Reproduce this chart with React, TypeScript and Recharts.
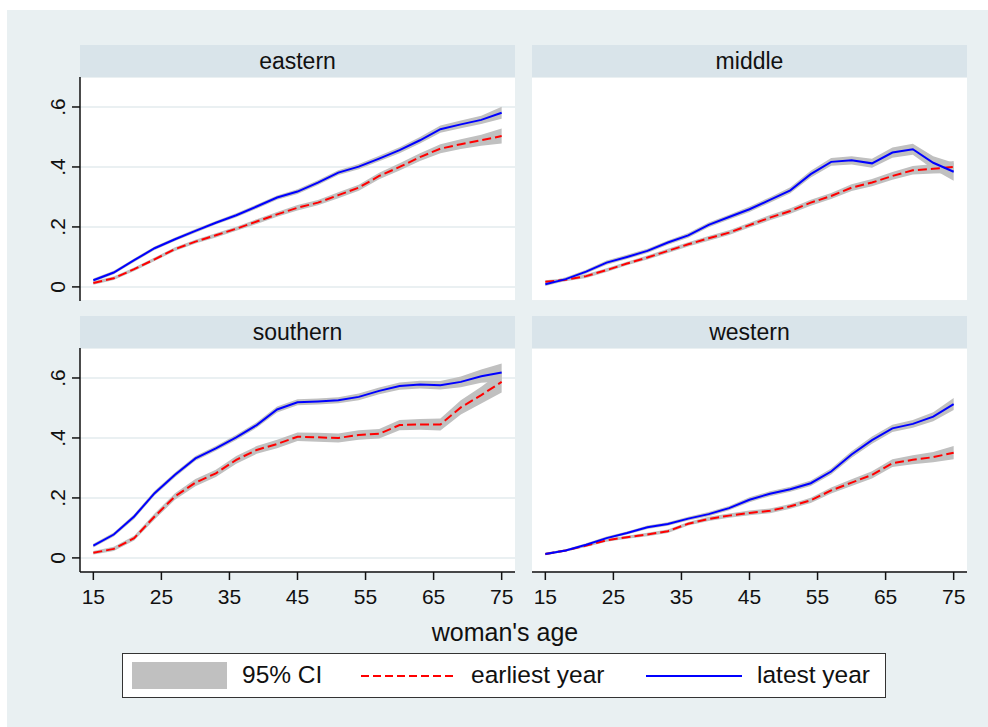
import React from 'react';
import { ComposedChart, Line, Area, XAxis, YAxis, CartesianGrid } from 'recharts';

const FONT = '"Liberation Sans", Arial, sans-serif';

// woman's age grid, shared by every panel
const ages = [15, 18, 21, 24, 27, 30, 33, 36, 39, 42, 45, 48, 51, 54, 57, 60, 63, 66, 69, 72, 75];
const xTicks = [15, 25, 35, 45, 55, 65, 75];
const yTicks = [0, 0.2, 0.4, 0.6];

const easternEarliest = [0.013, 0.029, 0.059, 0.092, 0.126, 0.151, 0.172, 0.194, 0.218, 0.242, 0.264, 0.281, 0.306, 0.331, 0.37, 0.4, 0.433, 0.461, 0.476, 0.489, 0.503];
const easternEarliestCI = [0.006, 0.006, 0.006, 0.006, 0.006, 0.006, 0.007, 0.007, 0.008, 0.008, 0.009, 0.009, 0.01, 0.01, 0.011, 0.012, 0.013, 0.015, 0.016, 0.018, 0.025];
const easternLatest = [0.022, 0.048, 0.089, 0.129, 0.159, 0.187, 0.214, 0.239, 0.268, 0.298, 0.318, 0.348, 0.381, 0.401, 0.428, 0.456, 0.489, 0.526, 0.542, 0.557, 0.581];
const easternLatestCI = [0.006, 0.006, 0.006, 0.006, 0.006, 0.006, 0.006, 0.007, 0.007, 0.007, 0.008, 0.008, 0.008, 0.009, 0.009, 0.01, 0.011, 0.012, 0.013, 0.014, 0.02];

const middleEarliest = [0.017, 0.024, 0.036, 0.056, 0.078, 0.098, 0.12, 0.142, 0.162, 0.181, 0.206, 0.231, 0.253, 0.281, 0.303, 0.331, 0.348, 0.37, 0.389, 0.394, 0.4];
const middleEarliestCI = [0.005, 0.005, 0.006, 0.006, 0.006, 0.007, 0.007, 0.007, 0.008, 0.008, 0.008, 0.009, 0.009, 0.01, 0.01, 0.011, 0.012, 0.013, 0.014, 0.016, 0.02];
const middleLatest = [0.009, 0.026, 0.051, 0.081, 0.1, 0.12, 0.148, 0.172, 0.207, 0.233, 0.259, 0.29, 0.322, 0.376, 0.417, 0.422, 0.412, 0.448, 0.459, 0.414, 0.384];
const middleLatestCI = [0.006, 0.006, 0.006, 0.007, 0.007, 0.007, 0.007, 0.008, 0.008, 0.008, 0.009, 0.009, 0.01, 0.011, 0.013, 0.014, 0.015, 0.017, 0.018, 0.022, 0.03];

const southernEarliest = [0.017, 0.03, 0.066, 0.138, 0.205, 0.251, 0.282, 0.327, 0.36, 0.38, 0.404, 0.402, 0.4, 0.41, 0.414, 0.443, 0.445, 0.445, 0.502, 0.543, 0.587];
const southernEarliestCI = [0.006, 0.007, 0.008, 0.01, 0.011, 0.012, 0.012, 0.013, 0.013, 0.014, 0.014, 0.015, 0.015, 0.016, 0.016, 0.017, 0.018, 0.02, 0.024, 0.028, 0.035];
const southernLatest = [0.041, 0.078, 0.138, 0.216, 0.277, 0.332, 0.365, 0.402, 0.443, 0.495, 0.519, 0.522, 0.526, 0.537, 0.557, 0.573, 0.578, 0.576, 0.587, 0.606, 0.618];
const southernLatestCI = [0.006, 0.007, 0.008, 0.008, 0.008, 0.008, 0.008, 0.009, 0.009, 0.01, 0.01, 0.01, 0.01, 0.011, 0.011, 0.012, 0.013, 0.014, 0.018, 0.022, 0.03];

const westernEarliest = [0.013, 0.025, 0.041, 0.059, 0.069, 0.078, 0.089, 0.114, 0.13, 0.141, 0.15, 0.157, 0.172, 0.192, 0.225, 0.251, 0.277, 0.316, 0.327, 0.336, 0.351];
const westernEarliestCI = [0.004, 0.004, 0.005, 0.005, 0.005, 0.006, 0.006, 0.006, 0.007, 0.007, 0.008, 0.008, 0.008, 0.009, 0.01, 0.011, 0.012, 0.013, 0.015, 0.017, 0.022];
const westernLatest = [0.013, 0.025, 0.044, 0.066, 0.083, 0.102, 0.113, 0.131, 0.146, 0.166, 0.194, 0.214, 0.229, 0.249, 0.288, 0.345, 0.393, 0.432, 0.447, 0.471, 0.513];
const westernLatestCI = [0.004, 0.004, 0.005, 0.005, 0.005, 0.006, 0.006, 0.006, 0.007, 0.007, 0.008, 0.008, 0.008, 0.009, 0.01, 0.011, 0.012, 0.012, 0.013, 0.015, 0.02];

const BG = '#e9f0f2';
const STRIP = '#d9e4ea';
const GRID = '#e3ebee';
const CI = '#c0c0c0';
const RED = '#ff0000';
const BLUE = '#0000ff';

const PLOT_W = 435;
const PLOT_H = 224;
const YAXIS_W = 80;
const XAXIS_H = 45;
const TICK_FONT = 21;

function buildRows(earliest: number[], earliestCI: number[], latest: number[], latestCI: number[]) {
  return ages.map((age, i) => ({
    age,
    earliest: earliest[i],
    latest: latest[i],
    earliestBand: [earliest[i] - earliestCI[i], earliest[i] + earliestCI[i]],
    latestBand: [latest[i] - latestCI[i], latest[i] + latestCI[i]],
  }));
}

const YTick = (props: any) => {
  const { x, y, payload } = props;
  const label = payload.value === 0 ? '0' : String(payload.value).replace(/^0/, '');
  const tx = x - 13;
  return (
    <text x={tx} y={y} transform={`rotate(-90 ${tx} ${y})`} textAnchor="middle" dy="0.36em"
      fontSize={TICK_FONT} fill="#111" fontFamily={FONT}>
      {label}
    </text>
  );
};

const XTick = (props: any) => {
  const { x, y, payload } = props;
  return (
    <text x={x} y={y} textAnchor="middle" dy="0.71em" fontSize={TICK_FONT} fill="#111" fontFamily={FONT}>
      {payload.value}
    </text>
  );
};

interface PanelProps {
  title: string;
  left: number;
  top: number;
  showY: boolean;
  showX: boolean;
  rows: any[];
}

function Panel({ title, left, top, showY, showX, rows }: PanelProps) {
  const yw = showY ? YAXIS_W : 0;
  const plotLeft = left + yw;
  return (
    <>
      <div style={{
        position: 'absolute', left: plotLeft, top: top - 32, width: PLOT_W, height: 32,
        background: STRIP, display: 'flex', alignItems: 'center', justifyContent: 'center',
        fontFamily: FONT, fontSize: 23, color: '#111',
      }}>
        {title}
      </div>
      <div style={{ position: 'absolute', left, top }}>
        <ComposedChart width={yw + PLOT_W} height={PLOT_H + (showX ? XAXIS_H : 0)} data={rows}
          margin={{ top: 0, right: 0, bottom: 0, left: 0 }}>
          <CartesianGrid vertical={false} stroke={GRID} strokeWidth={1.5} fill="#ffffff" fillOpacity={1} />
          <XAxis dataKey="age" type="number" domain={[13.04, 76.96]} ticks={xTicks} allowDataOverflow
            hide={!showX} height={XAXIS_H} tickSize={8} tickMargin={9}
            axisLine={{ stroke: '#111', strokeWidth: 1.5 }} tickLine={{ stroke: '#111', strokeWidth: 1.5 }}
            tick={<XTick />} />
          <YAxis type="number" domain={[-0.047, 0.7]} ticks={yTicks} allowDataOverflow
            width={yw} tickSize={showY ? 8 : 0} tickMargin={2}
            axisLine={showY ? { stroke: '#111', strokeWidth: 1.5 } : false}
            tickLine={showY ? { stroke: '#111', strokeWidth: 1.5 } : false}
            tick={showY ? <YTick /> : false} />
          <Area dataKey="earliestBand" type="linear" fill={CI} fillOpacity={1} stroke="none" isAnimationActive={false} />
          <Area dataKey="latestBand" type="linear" fill={CI} fillOpacity={1} stroke="none" isAnimationActive={false} />
          <Line dataKey="earliest" type="linear" stroke={RED} strokeWidth={2} strokeDasharray="9 4" dot={false} isAnimationActive={false} />
          <Line dataKey="latest" type="linear" stroke={BLUE} strokeWidth={2} dot={false} isAnimationActive={false} />
        </ComposedChart>
      </div>
    </>
  );
}

export default function App() {
  return (
    <div style={{ position: 'absolute', left: 0, top: 0, width: 988, height: 727, background: '#fff', overflow: 'hidden' }}>
      <div style={{ position: 'absolute', left: 7, top: 10, width: 981, height: 717, background: BG }} />
      <Panel title="eastern" left={0} top={77} showY showX={false}
        rows={buildRows(easternEarliest, easternEarliestCI, easternLatest, easternLatestCI)} />
      <Panel title="middle" left={532} top={77} showY={false} showX={false}
        rows={buildRows(middleEarliest, middleEarliestCI, middleLatest, middleLatestCI)} />
      <Panel title="southern" left={0} top={348} showY showX
        rows={buildRows(southernEarliest, southernEarliestCI, southernLatest, southernLatestCI)} />
      <Panel title="western" left={532} top={348} showY={false} showX
        rows={buildRows(westernEarliest, westernEarliestCI, westernLatest, westernLatestCI)} />

      <div style={{
        position: 'absolute', left: 0, width: 1010, top: 617, textAlign: 'center',
        fontFamily: FONT, fontSize: 25, color: '#111', lineHeight: '30px',
      }}>
        woman's age
      </div>

      <div style={{
        position: 'absolute', left: 122, top: 653, width: 762, height: 43, background: '#fff',
        border: '1px solid #333', fontFamily: FONT, fontSize: 24.5, color: '#111',
      }}>
        <div style={{ position: 'absolute', left: 9, top: 8, width: 95, height: 27, background: CI }} />
        <span style={{ position: 'absolute', left: 119, top: 6, lineHeight: '30px' }}>95% CI</span>
        <svg style={{ position: 'absolute', left: 238, top: 20 }} width={96} height={4}>
          <line x1={0} y1={2} x2={96} y2={2} stroke={RED} strokeWidth={2} strokeDasharray="8 4" />
        </svg>
        <span style={{ position: 'absolute', left: 348, top: 6, lineHeight: '30px' }}>earliest year</span>
        <svg style={{ position: 'absolute', left: 523, top: 20 }} width={96} height={4}>
          <line x1={0} y1={2} x2={96} y2={2} stroke={BLUE} strokeWidth={2} />
        </svg>
        <span style={{ position: 'absolute', left: 634, top: 6, lineHeight: '30px' }}>latest year</span>
      </div>
    </div>
  );
}
